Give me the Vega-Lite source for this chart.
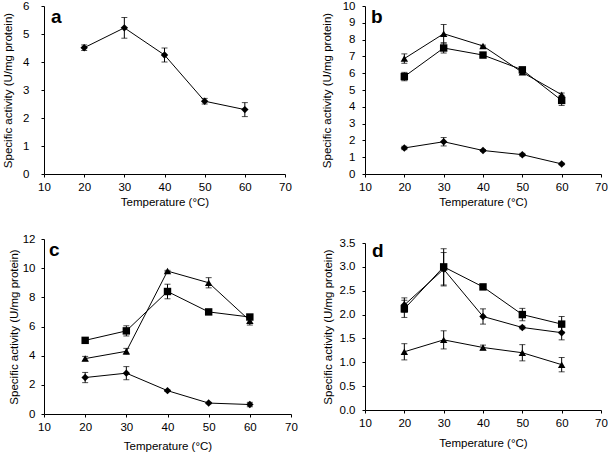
{
  "$schema": "https://vega.github.io/schema/vega-lite/v6.json",
  "background": "white",
  "padding": {"left": 2, "top": 0, "right": 0, "bottom": 0},
  "config": {
    "view": {"stroke": null},
    "font": "Liberation Sans",
    "axis": {
      "grid": false, "domainColor": "black", "tickColor": "black", "labelColor": "black", "titleColor": "black",
      "labelFont": "Liberation Sans", "titleFont": "Liberation Sans", "labelFontSize": 11.5, "titleFontSize": 11.5,
      "titleFontWeight": "normal", "tickSize": 3, "domainWidth": 1, "tickWidth": 1, "labelFlush": false, "labelOverlap": false
    },
    "axisX": {"labelPadding": 4, "titlePadding": 4}
  },
  "datasets": {
    "main": [
      {"panel": "a", "series": "diamond", "temp": 20, "value": 4.51, "err": 0.1},
      {"panel": "a", "series": "diamond", "temp": 30, "value": 5.22, "err": 0.37},
      {"panel": "a", "series": "diamond", "temp": 40, "value": 4.25, "err": 0.25},
      {"panel": "a", "series": "diamond", "temp": 50, "value": 2.6, "err": 0.1},
      {"panel": "a", "series": "diamond", "temp": 60, "value": 2.3, "err": 0.25},

      {"panel": "b", "series": "triangle", "temp": 20, "value": 6.87, "err": 0.28},
      {"panel": "b", "series": "triangle", "temp": 30, "value": 8.35, "err": 0.55},
      {"panel": "b", "series": "triangle", "temp": 40, "value": 7.62, "err": 0.05},
      {"panel": "b", "series": "triangle", "temp": 50, "value": 6.05, "err": 0.1},
      {"panel": "b", "series": "triangle", "temp": 60, "value": 4.72, "err": 0.1},
      {"panel": "b", "series": "square", "temp": 20, "value": 5.8, "err": 0.25},
      {"panel": "b", "series": "square", "temp": 30, "value": 7.5, "err": 0.3},
      {"panel": "b", "series": "square", "temp": 40, "value": 7.08, "err": 0.05},
      {"panel": "b", "series": "square", "temp": 50, "value": 6.2, "err": 0.1},
      {"panel": "b", "series": "square", "temp": 60, "value": 4.38, "err": 0.3},
      {"panel": "b", "series": "diamond", "temp": 20, "value": 1.55, "err": 0.1},
      {"panel": "b", "series": "diamond", "temp": 30, "value": 1.92, "err": 0.25},
      {"panel": "b", "series": "diamond", "temp": 40, "value": 1.4, "err": 0.05},
      {"panel": "b", "series": "diamond", "temp": 50, "value": 1.15, "err": 0.08},
      {"panel": "b", "series": "diamond", "temp": 60, "value": 0.6, "err": 0.05},

      {"panel": "c", "series": "triangle", "temp": 20, "value": 3.8, "err": 0.15},
      {"panel": "c", "series": "triangle", "temp": 30, "value": 4.3, "err": 0.2},
      {"panel": "c", "series": "triangle", "temp": 40, "value": 9.8, "err": 0.05},
      {"panel": "c", "series": "triangle", "temp": 50, "value": 9.0, "err": 0.35},
      {"panel": "c", "series": "triangle", "temp": 60, "value": 6.4, "err": 0.3},
      {"panel": "c", "series": "square", "temp": 20, "value": 5.05, "err": 0.1},
      {"panel": "c", "series": "square", "temp": 30, "value": 5.7, "err": 0.35},
      {"panel": "c", "series": "square", "temp": 40, "value": 8.4, "err": 0.5},
      {"panel": "c", "series": "square", "temp": 50, "value": 7.0, "err": 0.1},
      {"panel": "c", "series": "square", "temp": 60, "value": 6.65, "err": 0.1},
      {"panel": "c", "series": "diamond", "temp": 20, "value": 2.5, "err": 0.35},
      {"panel": "c", "series": "diamond", "temp": 30, "value": 2.8, "err": 0.45},
      {"panel": "c", "series": "diamond", "temp": 40, "value": 1.6, "err": 0.05},
      {"panel": "c", "series": "diamond", "temp": 50, "value": 0.75, "err": 0.05},
      {"panel": "c", "series": "diamond", "temp": 60, "value": 0.65, "err": 0.15},

      {"panel": "d", "series": "square", "temp": 20, "value": 2.12, "err": 0.18},
      {"panel": "d", "series": "square", "temp": 30, "value": 3.0, "err": 0.38},
      {"panel": "d", "series": "square", "temp": 40, "value": 2.58, "err": 0.03},
      {"panel": "d", "series": "square", "temp": 50, "value": 2.0, "err": 0.13},
      {"panel": "d", "series": "square", "temp": 60, "value": 1.8, "err": 0.16},
      {"panel": "d", "series": "diamond", "temp": 20, "value": 2.2, "err": 0.15},
      {"panel": "d", "series": "diamond", "temp": 30, "value": 2.95, "err": 0.35},
      {"panel": "d", "series": "diamond", "temp": 40, "value": 1.96, "err": 0.16},
      {"panel": "d", "series": "diamond", "temp": 50, "value": 1.73, "err": 0.03},
      {"panel": "d", "series": "diamond", "temp": 60, "value": 1.62, "err": 0.15},
      {"panel": "d", "series": "triangle", "temp": 20, "value": 1.22, "err": 0.17},
      {"panel": "d", "series": "triangle", "temp": 30, "value": 1.47, "err": 0.19},
      {"panel": "d", "series": "triangle", "temp": 40, "value": 1.31, "err": 0.05},
      {"panel": "d", "series": "triangle", "temp": 50, "value": 1.2, "err": 0.17},
      {"panel": "d", "series": "triangle", "temp": 60, "value": 0.95, "err": 0.15}
    ],
    "labels": [
      {"panel": "a", "label": "a"},
      {"panel": "b", "label": "b"},
      {"panel": "c", "label": "c"},
      {"panel": "d", "label": "d"}
    ]
  },
  "spacing": 25,
  "vconcat": [
    {
      "hconcat": [
        {
          "width": 241, "height": 168,
          "layer": [
            {
              "data": {"name": "main"},
              "transform": [{"filter": "datum.panel == 'a'"}],
              "encoding": {
                "x": {"field": "temp", "type": "quantitative", "title": "Temperature (°C)", "scale": {"domain": [10, 70], "nice": false},
                      "axis": {"values": [10, 20, 30, 40, 50, 60, 70]}},
                "y": {"field": "value", "type": "quantitative", "title": "Specific activity (U/mg protein)", "scale": {"domain": [0, 6], "nice": false},
                      "axis": {"values": [0, 1, 2, 3, 4, 5, 6], "labelPadding": 12, "titlePadding": 9}}
              },
              "layer": [
                {"mark": {"type": "line", "color": "black", "strokeWidth": 1}, "encoding": {"detail": {"field": "series"}}},
                {"mark": {"type": "errorbar", "color": "black", "thickness": 1, "ticks": {"size": 6, "thickness": 1, "color": "black"}},
                 "encoding": {"yError": {"field": "err"}, "detail": {"field": "series"}}},
                {"mark": {"type": "point", "filled": true, "color": "black", "opacity": 1, "size": 55},
                 "encoding": {"shape": {"field": "series", "scale": {"domain": ["diamond", "square", "triangle"], "range": ["diamond", "square", "triangle-up"]}, "legend": null}}}
              ]
            },
            {"data": {"name": "labels"}, "transform": [{"filter": "datum.panel == 'a'"}],
             "mark": {"type": "text", "font": "Liberation Sans", "fontSize": 19, "fontWeight": "bold", "align": "left", "baseline": "alphabetic", "dx": 7, "dy": 17, "color": "black"},
             "encoding": {
               "x": {"datum": 10, "type": "quantitative", "title": "Temperature (°C)", "axis": {"values": [10, 20, 30, 40, 50, 60, 70]}},
               "y": {"datum": 6, "type": "quantitative", "title": "Specific activity (U/mg protein)", "axis": {"values": [0, 1, 2, 3, 4, 5, 6], "labelPadding": 12, "titlePadding": 9}},
               "text": {"field": "label"}}}
          ]
        },
        {
          "width": 236, "height": 168,
          "layer": [
            {
              "data": {"name": "main"},
              "transform": [{"filter": "datum.panel == 'b'"}],
              "encoding": {
                "x": {"field": "temp", "type": "quantitative", "title": "Temperature (°C)", "scale": {"domain": [10, 70], "nice": false},
                      "axis": {"values": [10, 20, 30, 40, 50, 60, 70]}},
                "y": {"field": "value", "type": "quantitative", "title": "Specific activity (U/mg protein)", "scale": {"domain": [0, 10], "nice": false},
                      "axis": {"values": [0, 1, 2, 3, 4, 5, 6, 7, 8, 9, 10], "labelPadding": 7, "titlePadding": 10}}
              },
              "layer": [
                {"mark": {"type": "line", "color": "black", "strokeWidth": 1}, "encoding": {"detail": {"field": "series"}}},
                {"mark": {"type": "errorbar", "color": "black", "thickness": 1, "ticks": {"size": 6, "thickness": 1, "color": "black"}},
                 "encoding": {"yError": {"field": "err"}, "detail": {"field": "series"}}},
                {"mark": {"type": "point", "filled": true, "color": "black", "opacity": 1, "size": 55},
                 "encoding": {"shape": {"field": "series", "scale": {"domain": ["diamond", "square", "triangle"], "range": ["diamond", "square", "triangle-up"]}, "legend": null}}}
              ]
            },
            {"data": {"name": "labels"}, "transform": [{"filter": "datum.panel == 'b'"}],
             "mark": {"type": "text", "font": "Liberation Sans", "fontSize": 19, "fontWeight": "bold", "align": "left", "baseline": "alphabetic", "dx": 6, "dy": 17, "color": "black"},
             "encoding": {
               "x": {"datum": 10, "type": "quantitative", "title": "Temperature (°C)", "axis": {"values": [10, 20, 30, 40, 50, 60, 70]}},
               "y": {"datum": 10, "type": "quantitative", "title": "Specific activity (U/mg protein)", "axis": {"values": [0, 1, 2, 3, 4, 5, 6, 7, 8, 9, 10], "labelPadding": 7, "titlePadding": 10}},
               "text": {"field": "label"}}}
          ]
        }
      ],
      "spacing": 80, "bounds": "flush"
    },
    {
      "hconcat": [
        {
          "width": 247, "height": 175,
          "layer": [
            {
              "data": {"name": "main"},
              "transform": [{"filter": "datum.panel == 'c'"}],
              "encoding": {
                "x": {"field": "temp", "type": "quantitative", "title": "Temperature (°C)", "scale": {"domain": [10, 70], "nice": false},
                      "axis": {"values": [10, 20, 30, 40, 50, 60, 70], "titlePadding": 8}},
                "y": {"field": "value", "type": "quantitative", "title": "Specific activity (U/mg protein)", "scale": {"domain": [0, 12], "nice": false},
                      "axis": {"values": [0, 2, 4, 6, 8, 10, 12], "labelPadding": 6, "titlePadding": 3}}
              },
              "layer": [
                {"mark": {"type": "line", "color": "black", "strokeWidth": 1}, "encoding": {"detail": {"field": "series"}}},
                {"mark": {"type": "errorbar", "color": "black", "thickness": 1, "ticks": {"size": 6, "thickness": 1, "color": "black"}},
                 "encoding": {"yError": {"field": "err"}, "detail": {"field": "series"}}},
                {"mark": {"type": "point", "filled": true, "color": "black", "opacity": 1, "size": 55},
                 "encoding": {"shape": {"field": "series", "scale": {"domain": ["diamond", "square", "triangle"], "range": ["diamond", "square", "triangle-up"]}, "legend": null}}}
              ]
            },
            {"data": {"name": "labels"}, "transform": [{"filter": "datum.panel == 'c'"}],
             "mark": {"type": "text", "font": "Liberation Sans", "fontSize": 19, "fontWeight": "bold", "align": "left", "baseline": "alphabetic", "dx": 5, "dy": 17, "color": "black"},
             "encoding": {
               "x": {"datum": 10, "type": "quantitative", "title": "Temperature (°C)", "axis": {"values": [10, 20, 30, 40, 50, 60, 70], "titlePadding": 8}},
               "y": {"datum": 12, "type": "quantitative", "title": "Specific activity (U/mg protein)", "axis": {"values": [0, 2, 4, 6, 8, 10, 12], "labelPadding": 6, "titlePadding": 3}},
               "text": {"field": "label"}}}
          ]
        },
        {
          "width": 236, "height": 167,
          "layer": [
            {
              "data": {"name": "main"},
              "transform": [{"filter": "datum.panel == 'd'"}],
              "encoding": {
                "x": {"field": "temp", "type": "quantitative", "title": "Temperature (°C)", "scale": {"domain": [10, 70], "nice": false},
                      "axis": {"values": [10, 20, 30, 40, 50, 60, 70], "titlePadding": 9}},
                "y": {"field": "value", "type": "quantitative", "title": "Specific activity (U/mg protein)", "scale": {"domain": [0, 3.5], "nice": false},
                      "axis": {"values": [0, 0.5, 1, 1.5, 2, 2.5, 3, 3.5], "format": ".1f", "labelPadding": 7, "titlePadding": 6}}
              },
              "layer": [
                {"mark": {"type": "line", "color": "black", "strokeWidth": 1}, "encoding": {"detail": {"field": "series"}}},
                {"mark": {"type": "errorbar", "color": "black", "thickness": 1, "ticks": {"size": 6, "thickness": 1, "color": "black"}},
                 "encoding": {"yError": {"field": "err"}, "detail": {"field": "series"}}},
                {"mark": {"type": "point", "filled": true, "color": "black", "opacity": 1, "size": 55},
                 "encoding": {"shape": {"field": "series", "scale": {"domain": ["diamond", "square", "triangle"], "range": ["diamond", "square", "triangle-up"]}, "legend": null}}}
              ]
            },
            {"data": {"name": "labels"}, "transform": [{"filter": "datum.panel == 'd'"}],
             "mark": {"type": "text", "font": "Liberation Sans", "fontSize": 19, "fontWeight": "bold", "align": "left", "baseline": "alphabetic", "dx": 7, "dy": 14, "color": "black"},
             "encoding": {
               "x": {"datum": 10, "type": "quantitative", "title": "Temperature (°C)", "axis": {"values": [10, 20, 30, 40, 50, 60, 70], "titlePadding": 9}},
               "y": {"datum": 3.5, "type": "quantitative", "title": "Specific activity (U/mg protein)", "axis": {"values": [0, 0.5, 1, 1.5, 2, 2.5, 3, 3.5], "format": ".1f", "labelPadding": 7, "titlePadding": 6}},
               "text": {"field": "label"}}}
          ]
        }
      ],
      "spacing": 74, "bounds": "flush", "center": true
    }
  ]
}
